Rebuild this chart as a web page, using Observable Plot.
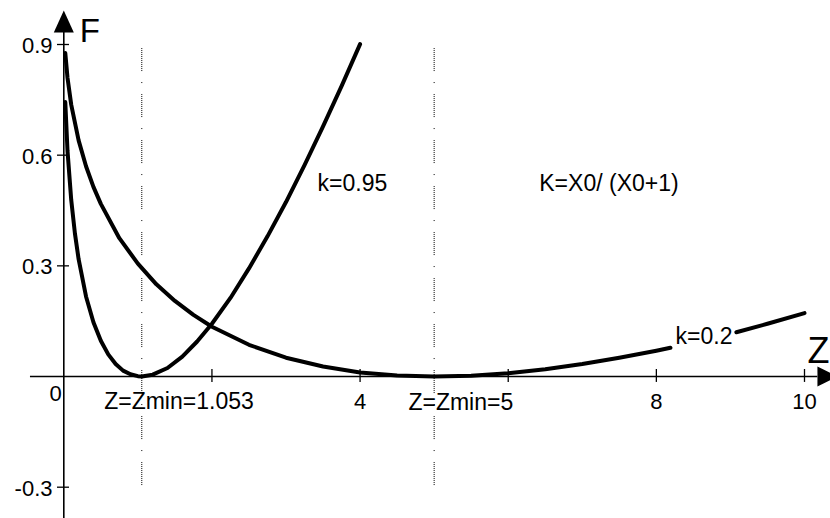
<!DOCTYPE html>
<html>
<head>
<meta charset="utf-8">
<script src="https://cdn.jsdelivr.net/npm/d3@7"></script>
<script src="https://cdn.jsdelivr.net/npm/@observablehq/plot@0.6"></script>
<style>
  html, body { margin: 0; padding: 0; background: #fff; }
  #chart svg { display: block; }
</style>
</head>
<body>
<div id="chart"></div>
<script>
// ---- data ----
// curve k = 0.95 (Zmin = 1.053)
const zK095 = [0.02, 0.05, 0.1, 0.15, 0.2, 0.3, 0.4, 0.5, 0.6, 0.7, 0.8, 0.9, 1.0, 1.053, 1.2, 1.4, 1.6, 1.8, 2.0, 2.25, 2.5, 2.75, 3.0, 3.25, 3.5, 3.75, 4.0];
const fK095 = [0.744, 0.612, 0.479, 0.388, 0.318, 0.217, 0.147, 0.097, 0.060, 0.034, 0.016, 0.006, 0.001, 0, 0.005, 0.023, 0.054, 0.095, 0.143, 0.213, 0.293, 0.380, 0.473, 0.573, 0.678, 0.787, 0.901];
// curve k = 0.2 (Zmin = 5), broken where its label sits
const zK02 = [0.02, 0.05, 0.1, 0.2, 0.3, 0.4, 0.5, 0.75, 1.0, 1.25, 1.5, 1.75, 2.0, 2.5, 3.0, 3.5, 4.0, 4.5, 5.0, 5.5, 6.0, 6.5, 7.0, 7.5, 8.0, 8.19, 8.6, 9.08, 9.5, 10.0];
const fK02 = [0.877, 0.810, 0.737, 0.640, 0.570, 0.514, 0.468, 0.375, 0.306, 0.250, 0.205, 0.167, 0.135, 0.086, 0.051, 0.027, 0.011, 0.003, 0, 0.002, 0.009, 0.020, 0.034, 0.051, 0.070, 0.078, null, 0.120, 0.143, 0.172];
// minima marked with dotted verticals
const zMins = [1.053, 5];
// ticks
const xTicks = [2, 4, 6, 8, 10];
const xTickLabelValues = [4, 8, 10];
const xTickLabels = ["4", "8", "10"];
const yTicks = [0.9, 0.6, 0.3, -0.3];
const yTickLabels = ["0.9", "0.6", "0.3", "-0.3"];
// annotations
const annText = ["Z=Zmin=1.053", "Z=Zmin=5", "k=0.95", "K=X0/ (X0+1)", "k=0.2"];
const annZ = [1.555, 5.36, 3.897, 7.36, 8.643];
const annF = [-0.088, -0.090, 0.504, 0.504, 0.0895];

// ---- build tables ----
const k095 = zK095.map((z, i) => ({z, f: fK095[i]}));
const k02 = zK02.map((z, i) => ({z, f: fK02[i]}));
const yLab = yTicks.map((v, i) => ({v, t: yTickLabels[i]}));
const xLab = xTickLabelValues.map((v, i) => ({v, t: xTickLabels[i]}));
const ann = annText.map((t, i) => ({t, z: annZ[i], f: annF[i]}));

const arrowUp = {draw(ctx) { ctx.moveTo(0, -22); ctx.lineTo(10, 0); ctx.lineTo(-10, 0); ctx.closePath(); }};
const arrowRight = {draw(ctx) { ctx.moveTo(20, 0); ctx.lineTo(0, -10); ctx.lineTo(0, 10); ctx.closePath(); }};

const dots = [];
for (let i = 0; i < 12; i++) { dots.push(1); dots.push(i < 11 ? 1 : 11); }
dots.push(1, 11);
const dotPattern = dots.join(",");

const font = "'Liberation Sans', Arial, sans-serif";

const chart = Plot.plot({
  width: 830,
  height: 518,
  margin: 0,
  style: {background: "#fff", fontFamily: font, color: "#000"},
  x: {domain: [0, 10], range: [63.3, 804], axis: null},
  y: {domain: [-0.3, 0.9], range: [486.7, 44], axis: null},
  marks: [
    // dotted minima lines
    Plot.ruleX(zMins, {y1: 0.889, y2: -0.3, stroke: "#000", strokeWidth: 1, strokeDasharray: dotPattern}),
    // axes
    Plot.ruleY([0], {x1: -0.45, x2: 10.18, stroke: "#000", strokeWidth: 1.6}),
    Plot.ruleX([0], {y1: 0.94, y2: -0.385, stroke: "#000", strokeWidth: 1.6}),
    Plot.dot([0], {x: () => 0, y: () => 0.9325, symbol: arrowUp, fill: "#000", stroke: "none"}),
    Plot.dot([0], {x: () => 10.175, y: () => 0, symbol: arrowRight, fill: "#000", stroke: "none"}),
    // tick marks
    Plot.ruleX(xTicks, {y1: 0.019, y2: -0.016, stroke: "#000", strokeWidth: 1.3}),
    Plot.ruleY(yTicks, {x1: -0.085, x2: 0.077, stroke: "#000", strokeWidth: 1.3}),
    // tick labels
    Plot.text(yLab, {x: () => 0, y: "v", text: "t", textAnchor: "end", lineAnchor: "bottom", dx: -11.3, dy: 8.5, fontSize: 22, fontFamily: font, fill: "#000"}),
    Plot.text(xLab, {x: "v", y: () => 0, text: "t", lineAnchor: "bottom", dy: 32.5, fontSize: 22, fontFamily: font, fill: "#000"}),
    Plot.text(["0"], {x: () => 0, y: () => 0, text: d => d, lineAnchor: "bottom", dx: -8.3, dy: 24, fontSize: 22, fontFamily: font, fill: "#000"}),
    // axis names
    Plot.text(["F"], {x: () => 0, y: () => 0, text: d => d, textAnchor: "start", lineAnchor: "bottom", dx: 16, dy: -335, fontSize: 33, fontFamily: font, fill: "#000"}),
    Plot.text(["Z"], {x: () => 10, y: () => 0, text: d => d, textAnchor: "start", lineAnchor: "bottom", dx: 3, dy: -14, fontSize: 36, fontFamily: font, fill: "#000"}),
    // curves
    Plot.line(k095, {x: "z", y: "f", stroke: "#000", strokeWidth: 4}),
    Plot.line(k02, {x: "z", y: "f", stroke: "#000", strokeWidth: 4}),
    // annotations
    Plot.text(ann, {x: "z", y: "f", text: "t", lineAnchor: "bottom", fontSize: 23, fontFamily: font, fill: "#000"})
  ]
});
document.getElementById("chart").appendChild(chart);
</script>
</body>
</html>
